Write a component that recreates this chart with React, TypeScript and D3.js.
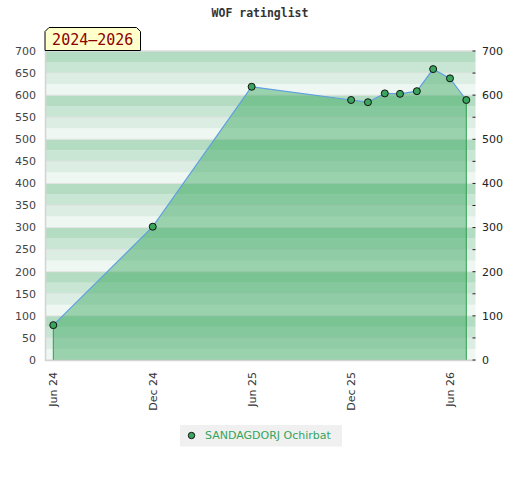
import * as d3 from "d3";

const TITLE = "WOF ratinglist";
const PERIOD = "2024–2026";
const PLAYER = "SANDAGDORJ Ochirbat";

const ratingDates = [
  "2024-06-01", "2024-12-01", "2025-06-01", "2025-12-01", "2026-01-01",
  "2026-02-01", "2026-03-01", "2026-04-01", "2026-05-01", "2026-06-01", "2026-07-01",
];
const ratings = [79, 302, 619, 589, 584, 604, 603, 609, 659, 638, 589];

const xTickDates = ["2024-06-01", "2024-12-01", "2025-06-01", "2025-12-01", "2026-06-01"];
const xTickLabels = ["Jun 24", "Dec 24", "Jun 25", "Dec 25", "Jun 26"];
const leftTicks = [0, 50, 100, 150, 200, 250, 300, 350, 400, 450, 500, 550, 600, 650, 700];
const rightTicks = [0, 100, 200, 300, 400, 500, 600, 700];

const W = 520;
const H = 480;
const PLOT = { left: 45.5, right: 475.5, top: 51, bottom: 360 };
const BAND_COLORS = ["#eef7f1", "#dceee3", "#c8e6d3", "#b4dcc2"];

export default function App() {
  const parse = (s: string) => new Date(s + "T00:00:00Z");
  const data = ratingDates.map((d, i) => ({ date: parse(d), value: ratings[i] }));

  const x = d3
    .scaleUtc()
    .domain([parse(ratingDates[0]), parse(ratingDates[ratingDates.length - 1])])
    .range([53.3, 466.3]);
  const y = d3.scaleLinear().domain([0, 700]).range([PLOT.bottom, PLOT.top]);

  const bands = d3.range(0, 700, 25);

  const area = d3
    .area<{ date: Date; value: number }>()
    .x((d) => x(d.date))
    .y0(y(0))
    .y1((d) => y(d.value));
  const line = d3
    .line<{ date: Date; value: number }>()
    .x((d) => x(d.date))
    .y((d) => y(d.value));

  const first = data[0];
  const last = data[data.length - 1];

  const badgeL = 45, badgeR = 140.5, badgeT = 27.5, badgeB = 50.5, cut = 4;

  return (
    <svg
      width={W}
      height={H}
      style={{ position: "absolute", left: 0, top: 0, background: "#fff" }}
    >
      <text
        x={W / 2}
        y={17}
        textAnchor="middle"
        fontFamily="DejaVu Sans Mono"
        fontWeight="bold"
        fontSize={11.5}
        fill="#333"
      >
        {TITLE}
      </text>

      {/* background bands */}
      {bands.map((v) => (
        <rect
          key={v}
          x={PLOT.left}
          width={PLOT.right - PLOT.left}
          y={y(v + 25)}
          height={y(v) - y(v + 25)}
          fill={BAND_COLORS[(v % 100) / 25]}
        />
      ))}
      {leftTicks.map((v) => (
        <line
          key={v}
          x1={PLOT.left}
          x2={PLOT.right}
          y1={y(v)}
          y2={y(v)}
          stroke="#e2e2e2"
          strokeWidth={1}
        />
      ))}

      <path d={area(data) ?? ""} fill="rgb(51,165,92)" fillOpacity={0.45} />
      <path d={line(data) ?? ""} fill="none" stroke="#5fa0e0" strokeWidth={1.2} />
      <line x1={x(first.date)} x2={x(first.date)} y1={y(first.value)} y2={y(0)} stroke="#2f9e50" />
      <line x1={x(last.date)} x2={x(last.date)} y1={y(last.value)} y2={y(0)} stroke="#2f9e50" />

      {/* frame */}
      <line x1={PLOT.left} x2={PLOT.left} y1={PLOT.top} y2={PLOT.bottom + 1} stroke="#d4d4d4" strokeWidth={1.5} />
      <line x1={PLOT.left} x2={PLOT.right} y1={PLOT.bottom + 0.5} y2={PLOT.bottom + 0.5} stroke="#d4d4d4" strokeWidth={1.5} />
      <line x1={PLOT.left} x2={PLOT.right} y1={PLOT.top} y2={PLOT.top} stroke="#dadada" strokeWidth={1} />

      {data.map((d, i) => (
        <circle
          key={i}
          cx={x(d.date)}
          cy={y(d.value)}
          r={3.5}
          fill="#3aa55c"
          stroke="#111"
          strokeWidth={1}
        />
      ))}

      {/* left axis */}
      {leftTicks.map((v) => (
        <text
          key={v}
          x={36}
          y={y(v)}
          dy="0.35em"
          textAnchor="end"
          fontFamily="DejaVu Sans"
          fontSize={11}
          fill="#444"
        >
          {v}
        </text>
      ))}

      {/* right axis */}
      {leftTicks.map((v) => (
        <line key={v} x1={PLOT.right - 3} x2={PLOT.right} y1={y(v)} y2={y(v)} stroke="#222" />
      ))}
      {rightTicks.map((v) => (
        <text
          key={v}
          x={482}
          y={y(v)}
          dy="0.35em"
          fontFamily="DejaVu Sans"
          fontSize={11}
          fill="#222"
        >
          {v}
        </text>
      ))}

      {/* x axis */}
      {xTickDates.map((d, i) => (
        <text
          key={d}
          transform={`translate(${x(parse(d))},372) rotate(-90)`}
          dy="0.35em"
          textAnchor="end"
          fontFamily="DejaVu Sans"
          fontSize={11}
          fill="#333"
        >
          {xTickLabels[i]}
        </text>
      ))}

      {/* period badge */}
      <path
        d={`M${badgeL},${badgeB} L${badgeL},${badgeT + cut} L${badgeL + cut},${badgeT} L${badgeR - cut},${badgeT} L${badgeR},${badgeT + cut} L${badgeR},${badgeB} Z`}
        fill="#ffffcc"
        stroke="#000"
        strokeWidth={1}
      />
      <text
        x={(badgeL + badgeR) / 2}
        y={45}
        textAnchor="middle"
        fontFamily="DejaVu Sans Mono"
        fontSize={15}
        fill="#8b0000"
      >
        {PERIOD}
      </text>

      {/* legend */}
      <rect x={180} y={425} width={162} height={21.5} fill="#f0f0f0" />
      <circle cx={191.5} cy={435.5} r={3.2} fill="#3aa55c" stroke="#111" strokeWidth={1} />
      <text
        x={205}
        y={435.5}
        dy="0.35em"
        fontFamily="DejaVu Sans"
        fontSize={11}
        fill="#33a55c"
      >
        {PLAYER}
      </text>
    </svg>
  );
}
